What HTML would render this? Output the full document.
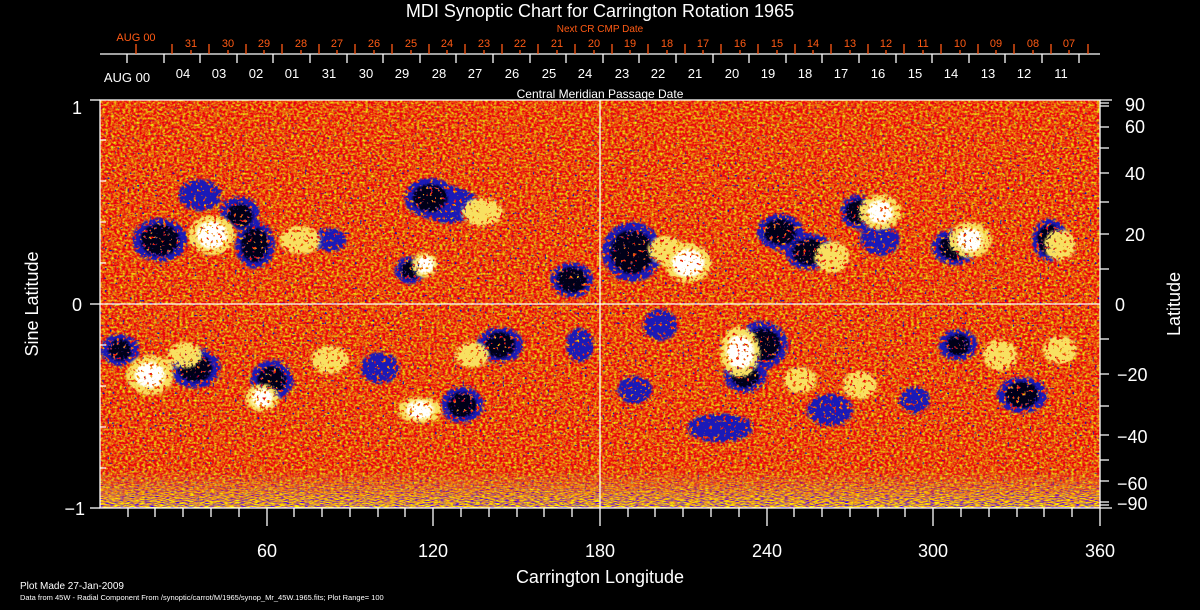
<!DOCTYPE html>
<html><head><meta charset="utf-8"><style>
html,body{margin:0;padding:0;background:#000;}
svg{display:block;}
text{font-family:"Liberation Sans",sans-serif;}
filter{color-interpolation-filters:sRGB;}
</style></head><body>
<svg width="1200" height="610" viewBox="0 0 1200 610" xmlns="http://www.w3.org/2000/svg">
<defs>
<filter id="noise" x="0" y="0" width="100%" height="100%" color-interpolation-filters="sRGB">
<feTurbulence type="fractalNoise" baseFrequency="0.35 0.45" numOctaves="2" seed="3" result="t"/>
<feColorMatrix in="t" type="matrix" values="0 0 0 0 0.92  2.0 0 0 0 -0.7  0 0 0 0 0.05  0 0 0 0 1"/>
</filter>
<filter id="band" x="0" y="0" width="100%" height="100%" color-interpolation-filters="sRGB">
<feTurbulence type="fractalNoise" baseFrequency="0.2 1.2" numOctaves="2" seed="7" result="t"/>
<feColorMatrix in="t" type="matrix" values="3 0 0 0 -0.6  3 0 0 0 -0.9  -4 0 0 0 2.2  0 0 0 0 1"/>
</filter>
<filter id="bluesp" x="0" y="0" width="100%" height="100%" color-interpolation-filters="sRGB">
<feTurbulence type="fractalNoise" baseFrequency="0.4" numOctaves="1" seed="11" result="t"/>
<feColorMatrix in="t" type="matrix" values="0 0 0 0 0.08  0 0 0 0 0.08  0 0 0 0 0.7  16 0 0 0 -10.8"/>
<feComposite in2="SourceGraphic" operator="in"/>
</filter>
<filter id="spk" x="-50%" y="-50%" width="200%" height="200%" color-interpolation-filters="sRGB">
<feGaussianBlur in="SourceGraphic" stdDeviation="5" result="b"/>
<feTurbulence type="fractalNoise" baseFrequency="0.3" numOctaves="2" seed="5" result="n"/>
<feColorMatrix in="n" type="matrix" values="0 0 0 0 1  0 0 0 0 1  0 0 0 0 1  4 0 0 0 -1.2" result="na"/>
<feComposite in="b" in2="na" operator="in" result="c"/>
<feComponentTransfer in="c"><feFuncA type="linear" slope="6" intercept="-0.5"/></feComponentTransfer>
</filter>
<linearGradient id="fade" x1="0" y1="0" x2="0" y2="1">
<stop offset="0" stop-color="#fff" stop-opacity="0"/><stop offset="1" stop-color="#fff" stop-opacity="1"/>
</linearGradient>
<linearGradient id="latband" x1="0" y1="0" x2="0" y2="1">
<stop offset="0" stop-color="#fff" stop-opacity="0.3"/><stop offset="0.2" stop-color="#fff" stop-opacity="1"/><stop offset="0.8" stop-color="#fff" stop-opacity="1"/><stop offset="1" stop-color="#fff" stop-opacity="0.3"/>
</linearGradient>
<mask id="m"><rect x="100" y="470" width="1000" height="38" fill="url(#fade)"/></mask>
<clipPath id="c"><rect x="100" y="100" width="1000" height="408"/></clipPath>
</defs>
<rect width="1200" height="610" fill="#000"/>
<g clip-path="url(#c)">
<rect x="100" y="100" width="1000" height="408" fill="#e84a14" filter="url(#noise)"/>
<rect x="100" y="470" width="1000" height="38" filter="url(#band)" mask="url(#m)"/>
<rect x="100" y="100" width="1000" height="408" fill="url(#latband)" filter="url(#bluesp)"/>
<g filter="url(#spk)" fill="#1a1ab8">
<ellipse cx="160" cy="240" rx="24" ry="18"/><ellipse cx="255" cy="245" rx="16" ry="20"/><ellipse cx="240" cy="212" rx="16" ry="12"/>
<ellipse cx="410" cy="270" rx="12" ry="10"/><ellipse cx="430" cy="198" rx="22" ry="16"/><ellipse cx="572" cy="280" rx="18" ry="14"/>
<ellipse cx="632" cy="252" rx="26" ry="26"/><ellipse cx="780" cy="232" rx="20" ry="14"/><ellipse cx="810" cy="252" rx="22" ry="14"/>
<ellipse cx="858" cy="212" rx="14" ry="14"/><ellipse cx="955" cy="247" rx="20" ry="14"/><ellipse cx="1050" cy="240" rx="14" ry="18"/>
<ellipse cx="200" cy="195" rx="18" ry="12"/><ellipse cx="120" cy="350" rx="16" ry="12"/><ellipse cx="195" cy="368" rx="22" ry="16"/>
<ellipse cx="272" cy="380" rx="18" ry="16"/><ellipse cx="462" cy="405" rx="18" ry="14"/><ellipse cx="500" cy="345" rx="20" ry="14"/>
<ellipse cx="580" cy="345" rx="10" ry="14"/><ellipse cx="762" cy="345" rx="22" ry="20"/><ellipse cx="745" cy="375" rx="18" ry="14"/>
<ellipse cx="635" cy="390" rx="14" ry="10"/><ellipse cx="958" cy="345" rx="16" ry="12"/><ellipse cx="1022" cy="395" rx="22" ry="14"/>
<ellipse cx="915" cy="400" rx="12" ry="10"/><ellipse cx="380" cy="368" rx="16" ry="12"/><ellipse cx="660" cy="325" rx="14" ry="12"/>
<ellipse cx="830" cy="410" rx="20" ry="12"/><ellipse cx="720" cy="428" rx="30" ry="10"/><ellipse cx="450" cy="205" rx="26" ry="14"/>
<ellipse cx="880" cy="240" rx="16" ry="12"/><ellipse cx="330" cy="240" rx="14" ry="8"/>
</g>
<g filter="url(#spk)" fill="#000018">
<ellipse cx="160" cy="240" rx="16" ry="12"/><ellipse cx="255" cy="245" rx="10" ry="14"/><ellipse cx="240" cy="215" rx="10" ry="8"/>
<ellipse cx="410" cy="270" rx="7" ry="6"/><ellipse cx="430" cy="198" rx="14" ry="10"/><ellipse cx="572" cy="280" rx="12" ry="9"/>
<ellipse cx="632" cy="252" rx="18" ry="18"/><ellipse cx="780" cy="232" rx="13" ry="9"/><ellipse cx="810" cy="252" rx="15" ry="9"/>
<ellipse cx="858" cy="212" rx="9" ry="9"/><ellipse cx="955" cy="247" rx="13" ry="9"/><ellipse cx="1050" cy="240" rx="9" ry="12"/>
<ellipse cx="195" cy="368" rx="14" ry="10"/><ellipse cx="272" cy="380" rx="11" ry="10"/><ellipse cx="462" cy="405" rx="11" ry="9"/>
<ellipse cx="500" cy="345" rx="12" ry="9"/><ellipse cx="762" cy="345" rx="15" ry="13"/><ellipse cx="745" cy="375" rx="11" ry="9"/>
<ellipse cx="1022" cy="395" rx="14" ry="9"/><ellipse cx="120" cy="350" rx="9" ry="7"/><ellipse cx="958" cy="345" rx="9" ry="7"/>
</g>
<g filter="url(#spk)" fill="#f8e060">
<ellipse cx="212" cy="235" rx="20" ry="16"/><ellipse cx="425" cy="265" rx="10" ry="9"/><ellipse cx="482" cy="212" rx="18" ry="10"/>
<ellipse cx="688" cy="263" rx="20" ry="16"/><ellipse cx="880" cy="212" rx="18" ry="14"/><ellipse cx="832" cy="257" rx="14" ry="12"/>
<ellipse cx="970" cy="240" rx="18" ry="14"/><ellipse cx="1060" cy="245" rx="12" ry="12"/><ellipse cx="300" cy="240" rx="18" ry="10"/>
<ellipse cx="150" cy="375" rx="20" ry="16"/><ellipse cx="262" cy="398" rx="14" ry="10"/><ellipse cx="740" cy="352" rx="16" ry="22"/>
<ellipse cx="472" cy="355" rx="14" ry="9"/><ellipse cx="420" cy="410" rx="20" ry="9"/><ellipse cx="1000" cy="355" rx="14" ry="12"/>
<ellipse cx="860" cy="385" rx="14" ry="10"/><ellipse cx="1060" cy="350" rx="14" ry="10"/><ellipse cx="185" cy="355" rx="14" ry="9"/>
<ellipse cx="330" cy="360" rx="16" ry="10"/><ellipse cx="800" cy="380" rx="14" ry="9"/><ellipse cx="665" cy="250" rx="14" ry="10"/>
</g>
<g filter="url(#spk)" fill="#ffffff">
<ellipse cx="212" cy="235" rx="12" ry="10"/><ellipse cx="425" cy="265" rx="6" ry="6"/><ellipse cx="688" cy="263" rx="13" ry="10"/>
<ellipse cx="880" cy="212" rx="10" ry="8"/><ellipse cx="970" cy="240" rx="10" ry="8"/><ellipse cx="150" cy="375" rx="12" ry="9"/>
<ellipse cx="740" cy="352" rx="10" ry="14"/><ellipse cx="262" cy="398" rx="8" ry="6"/><ellipse cx="420" cy="410" rx="12" ry="5"/>
</g>
</g>
<g stroke="#fff" stroke-width="1.3" fill="none">
<rect x="100" y="100" width="1000" height="408"/>
<line x1="600" y1="100" x2="600" y2="508"/><line x1="100" y1="304" x2="1100" y2="304"/>
<line x1="100" y1="54" x2="1100" y2="54"/>
<line x1="90" y1="100" x2="100" y2="100"/><line x1="90" y1="304" x2="100" y2="304"/><line x1="90" y1="508" x2="100" y2="508"/>
<path d="M100 140h6M100 181h6M100 222h6M100 263h6M100 345h6M100 386h6M100 427h6M100 468h6"/>
<path d="M1100 100h12M1100 103h9M1100 106h9M1100 127h9M1100 148h9M1100 173h9M1100 202h9M1100 234h9M1100 269h9M1100 339h9M1100 374h9M1100 406h9M1100 435h9M1100 460h9M1100 481h9M1100 502h9M1100 505h9M1100 508h12"/>
<path d="M128 508v9M155 508v9M183 508v9M211 508v9M239 508v9M294 508v9M322 508v9M350 508v9M378 508v9M405 508v9M461 508v9M489 508v9M517 508v9M544 508v9M572 508v9M628 508v9M655 508v9M683 508v9M711 508v9M739 508v9M794 508v9M822 508v9M850 508v9M878 508v9M905 508v9M961 508v9M989 508v9M1017 508v9M1044 508v9M1072 508v9"/>
<path d="M267 508v18M433 508v18M600 508v18M767 508v18M933 508v18M1100 508v18"/>
<path d="M127 54v9M164 54v9M200 54v9M237 54v9M273 54v9M310 54v9M347 54v9M383 54v9M420 54v9M456 54v9M493 54v9M530 54v9M566 54v9M603 54v9M639 54v9M676 54v9M713 54v9M749 54v9M786 54v9M822 54v9M859 54v9M896 54v9M932 54v9M969 54v9M1005 54v9M1042 54v9M1079 54v9"/>
</g>
<g stroke="#ff5a14" stroke-width="1.3">
<path d="M136 54v-10M172 54v-10M209 54v-10M246 54v-10M282 54v-10M319 54v-10M355 54v-10M392 54v-10M429 54v-10M465 54v-10M502 54v-10M538 54v-10M575 54v-10M612 54v-10M648 54v-10M685 54v-10M721 54v-10M758 54v-10M795 54v-10M831 54v-10M868 54v-10M904 54v-10M941 54v-10M978 54v-10M1014 54v-10M1051 54v-10M1088 54v-10"/>
<path d="M191 54v-4M228 54v-4M264 54v-4M301 54v-4M337 54v-4M374 54v-4M411 54v-4M447 54v-4M484 54v-4M520 54v-4M557 54v-4M594 54v-4M630 54v-4M667 54v-4M703 54v-4M740 54v-4M777 54v-4M813 54v-4M850 54v-4M886 54v-4M923 54v-4M960 54v-4M996 54v-4M1033 54v-4M1069 54v-4"/>
</g>
<text x="600" y="17" fill="#fff" font-size="18" text-anchor="middle">MDI Synoptic Chart for Carrington Rotation 1965</text>
<text x="600" y="32" fill="#ff5a14" font-size="10" text-anchor="middle">Next CR CMP Date</text>
<g fill="#ff5a14" font-size="11" text-anchor="middle">
<text x="136" y="41">AUG 00</text>
<text x="191" y="47">31</text><text x="228" y="47">30</text><text x="264" y="47">29</text><text x="301" y="47">28</text><text x="337" y="47">27</text><text x="374" y="47">26</text><text x="411" y="47">25</text><text x="447" y="47">24</text><text x="484" y="47">23</text><text x="520" y="47">22</text><text x="557" y="47">21</text><text x="594" y="47">20</text><text x="630" y="47">19</text><text x="667" y="47">18</text><text x="703" y="47">17</text><text x="740" y="47">16</text><text x="777" y="47">15</text><text x="813" y="47">14</text><text x="850" y="47">13</text><text x="886" y="47">12</text><text x="923" y="47">11</text><text x="960" y="47">10</text><text x="996" y="47">09</text><text x="1033" y="47">08</text><text x="1069" y="47">07</text>
</g>
<g fill="#fff" font-size="13" text-anchor="middle">
<text x="127" y="82">AUG 00</text>
<text x="183" y="78">04</text><text x="219" y="78">03</text><text x="256" y="78">02</text><text x="292" y="78">01</text><text x="329" y="78">31</text><text x="366" y="78">30</text><text x="402" y="78">29</text><text x="439" y="78">28</text><text x="475" y="78">27</text><text x="512" y="78">26</text><text x="549" y="78">25</text><text x="585" y="78">24</text><text x="622" y="78">23</text><text x="658" y="78">22</text><text x="695" y="78">21</text><text x="732" y="78">20</text><text x="768" y="78">19</text><text x="805" y="78">18</text><text x="841" y="78">17</text><text x="878" y="78">16</text><text x="915" y="78">15</text><text x="951" y="78">14</text><text x="988" y="78">13</text><text x="1024" y="78">12</text><text x="1061" y="78">11</text>
<text x="600" y="98" font-size="12">Central Meridian Passage Date</text>
</g>
<g fill="#fff" font-size="18">
<text x="82" y="114" text-anchor="end">1</text>
<text x="82" y="311" text-anchor="end">0</text>
<text x="85" y="515" text-anchor="end">−1</text>
<g text-anchor="start">
<text x="1125" y="111">90</text><text x="1125" y="133">60</text><text x="1125" y="180">40</text><text x="1125" y="241">20</text><text x="1115" y="311">0</text>
<text x="1117" y="381">−20</text><text x="1117" y="443">−40</text><text x="1117" y="490">−60</text><text x="1117" y="510">−90</text>
</g>
<g text-anchor="middle">
<text x="267" y="557">60</text><text x="433" y="557">120</text><text x="600" y="557">180</text><text x="767" y="557">240</text><text x="933" y="557">300</text><text x="1100" y="557">360</text>
<text x="600" y="583">Carrington Longitude</text>
<text transform="translate(38,304) rotate(-90)">Sine Latitude</text>
<text transform="translate(1180,304) rotate(-90)">Latitude</text>
</g>
</g>
<text x="20" y="589" fill="#fff" font-size="10">Plot Made 27-Jan-2009</text>
<text x="20" y="600" fill="#fff" font-size="7.5">Data from 45W - Radial Component From /synoptic/carrot/M/1965/synop_Mr_45W.1965.fits; Plot Range=  100</text>
</svg>
</body></html>
